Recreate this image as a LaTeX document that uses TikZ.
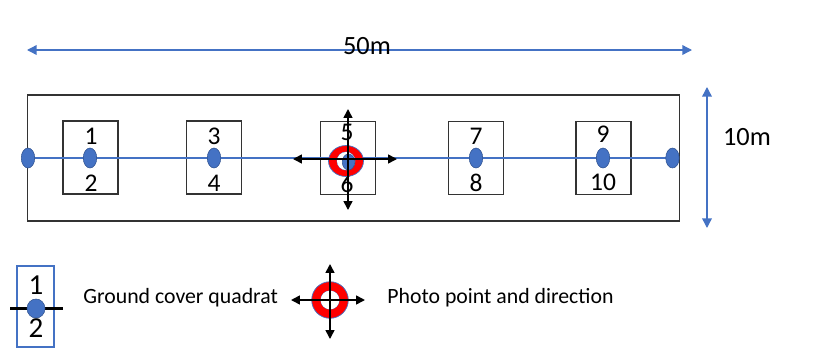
\documentclass[tikz,border=0pt]{standalone}
\usepackage{fontspec}
\setmainfont{Carlito}
\usetikzlibrary{arrows.meta,shapes.geometric}
\definecolor{obl}{HTML}{4472C4}
\definecolor{odk}{HTML}{2F528F}
\begin{document}
\begin{tikzpicture}[x=0.02cm,y=-0.02cm,
  box/.style={draw=black!80,line width=0.6pt,inner sep=0,fill=none},
  quad/.style={box,minimum width=1.1cm,minimum height=1.46cm},
  dot/.style={ellipse,fill=obl,draw=odk,line width=0.3pt,inner sep=0,minimum width=0.27cm,minimum height=0.4cm},
  num/.style={inner sep=0,font=\fontsize{14.5}{14.5}\selectfont},
  dimlab/.style={inner sep=0,font=\fontsize{15}{15}\selectfont},
  legtxt/.style={inner sep=0,anchor=west,font=\fontsize{12.4}{14}\selectfont},
  dimarrow/.style={draw=obl,line width=0.8pt,{Triangle[length=5.5pt,width=5.5pt]}-{Triangle[length=5.5pt,width=5.5pt]}},
  dirarrow/.style={draw=black,line width=0.9pt,{Triangle[length=5pt,width=5pt]}-{Triangle[length=5pt,width=5pt]}},
  bline/.style={draw=obl,line width=0.7pt},
  ring/.style={fill=red,draw=obl,line width=0.4pt,even odd rule}
]
\useasboundingbox (0,0) rectangle (840,356);

% dimension arrows
\coordinate (wl) at (27,50);
\coordinate (wr) at (692,50);
\draw[dimarrow] (wl) -- (wr);
\node[dimlab] (w50) at (367,46) {50m};
\coordinate (ht) at (707,87);
\coordinate (hb) at (707,228);
\draw[dimarrow] (ht) -- (hb);
\node[dimlab] (h10) at (747,137) {10m};

% plot
\node[box,minimum width=13.06cm,minimum height=2.52cm] (plot) at (353.5,158) {};

\node[quad] (q1) at (90.5,157.5) {};
\node[quad] (q3) at (214,157.5) {};
\node[quad] (q5) at (348,158) {};
\node[quad] (q7) at (476,158) {};
\node[quad] (q9) at (603.5,158) {};

\coordinate (lL) at (28,158);
\coordinate (lR) at (672.5,158);
\draw[bline] (lL) -- (lR);

\node[num] (n1) at (91,136) {1};
\node[num] (n2) at (91,183) {2};
\node[num] (n3) at (214,136) {3};
\node[num] (n4) at (214,183) {4};
\node[num] (n5) at (347,132) {5};
\node[num] (n6) at (347,184) {6};
\node[num] (n7) at (476,136) {7};
\node[num] (n8) at (476,183) {8};
\node[num] (n9) at (603,134) {9};
\node[num] (n10) at (603,182) {10};

\node[dot] (d0) at (lL) {};
\node[dot] (d1) at (90,158) {};
\node[dot] (d3) at (214,158) {};
\node[dot] (d7) at (476,158) {};
\node[dot] (d9) at (603,158) {};
\node[dot] (d11) at (lR) {};

% photo point
\path[ring] (346,161) ellipse (17.5 and 15.5) (346,161) ellipse (9 and 9);
\fill[white] (346,161) ellipse (9 and 9);
\node[dot,minimum width=0.25cm,minimum height=0.32cm] (d5) at (348.5,162) {};
\coordinate (pw) at (293,159);
\coordinate (pe) at (397,159);
\coordinate (pn) at (348,109);
\coordinate (ps) at (348,210);
\draw[dirarrow] (pw) -- (pe);
\draw[dirarrow] (pn) -- (ps);

% legend: quadrat
\node[box,draw=obl,minimum width=0.74cm,minimum height=1.62cm] (lq) at (35.5,306.5) {};
\node[num,font=\fontsize{16.5}{16.5}\selectfont] (l1) at (36,285) {1};
\node[num,font=\fontsize{16.5}{16.5}\selectfont] (l2) at (36,328) {2};
\coordinate (lqa) at (10,308.5);
\coordinate (lqb) at (63,308.5);
\draw[black,line width=1.7pt] (lqa) -- (lqb);
\node[dot,minimum width=0.36cm,minimum height=0.38cm] (ld) at (36,308.5) {};
\node[legtxt] (t1) at (83,298) {Ground cover quadrat};

% legend: photo point
\path[ring] (330,300) circle (18.3) (330,300) circle (9.3);
\fill[white] (330,300) circle (9.3);
\coordinate (lpw) at (291,300);
\coordinate (lpe) at (365,300);
\coordinate (lpn) at (330,264);
\coordinate (lps) at (330,339);
\draw[dirarrow] (lpw) -- (lpe);
\draw[dirarrow] (lpn) -- (lps);
\node[legtxt] (t2) at (387,298) {Photo point and direction};
\end{tikzpicture}
\end{document}
